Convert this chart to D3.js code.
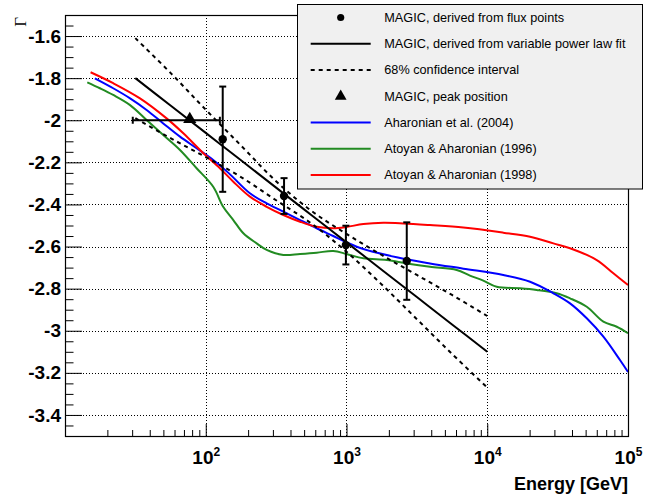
<!DOCTYPE html>
<html>
<head>
<meta charset="utf-8">
<script src="https://cdn.jsdelivr.net/npm/d3@7"></script>
<style>
  html, body { margin: 0; padding: 0; background: #fff; }
  svg { display: block; font-family: "Liberation Sans", Arial, Helvetica, sans-serif; }
</style>
</head>
<body>
<svg id="chart" width="665" height="495"></svg>
<script>
// ---------------- data ----------------
// MAGIC spectral index derived from the flux points (energy in GeV)
const fluxEnergy = [132, 360, 990, 2680];
const fluxIndex  = [-2.09, -2.36, -2.593, -2.669];
const fluxErr    = [0.25, 0.085, 0.092, 0.184];

// MAGIC peak position with its energy range
const peakEnergy = 77;
const peakIndex  = -2.0;
const peakLow    = 30.3;
const peakHigh   = 126;

// variable power law fit and its 68% confidence interval
const fitEnergy = [31.6, 56.2, 100, 178, 316, 562, 1000, 1778, 3162, 5623, 10000];
const fitIndex  = [-1.80, -1.93, -2.06, -2.19, -2.32, -2.45, -2.58, -2.71, -2.84, -2.97, -3.10];
const ciUpper   = [-1.61, -1.775, -1.95, -2.12, -2.29, -2.43, -2.54, -2.64, -2.735, -2.83, -2.93];
const ciLower   = [-1.99, -2.085, -2.175, -2.27, -2.38, -2.49, -2.625, -2.78, -2.945, -3.11, -3.27];

// Aharonian et al. (2004)
const ahaEnergy = [16.3, 22, 29, 38, 49.9, 65.6, 86.1, 113, 145, 206, 271, 356, 468, 614, 805, 1000,
                   1318, 2275, 3917, 6761, 13000, 20140, 29510, 38730, 50930, 66830, 87700, 100000];
const ahaIndex  = [-1.801, -1.848, -1.896, -1.951, -2.015, -2.078, -2.133, -2.189, -2.25, -2.347, -2.395,
                   -2.434, -2.474, -2.513, -2.55, -2.58, -2.612, -2.651, -2.68, -2.705, -2.735, -2.767,
                   -2.822, -2.87, -2.941, -3.028, -3.139, -3.196];

// Atoyan & Aharonian (1996)
const aa96Energy = [14.4, 17.7, 22, 29, 38, 49.9, 65.6, 86.1, 113, 133, 157, 185, 230, 271, 356, 468, 614,
                    805, 1000, 1318, 1932, 2679, 3917, 6067, 7534, 9376, 11670, 17100, 22440, 31120,
                    38730, 50930, 66830, 83180, 100000];
const aa96Index  = [-1.82, -1.848, -1.88, -1.928, -1.999, -2.07, -2.141, -2.228, -2.316, -2.411, -2.474,
                    -2.537, -2.585, -2.616, -2.64, -2.635, -2.629, -2.621, -2.635, -2.656, -2.664, -2.68,
                    -2.696, -2.711, -2.738, -2.762, -2.791, -2.798, -2.806, -2.822, -2.846, -2.886,
                    -2.957, -2.981, -3.012];

// Atoyan & Aharonian (1998)
const aa98Energy = [15.2, 22, 34.1, 52.7, 69.3, 96.2, 126, 157, 206, 271, 356, 468, 614, 805, 1000, 1318,
                    1828, 2535, 3917, 6761, 13000, 20140, 29510, 38730, 59980, 78700, 100000];
const aa98Index  = [-1.772, -1.824, -1.896, -1.991, -2.062, -2.157, -2.228, -2.292, -2.363, -2.411, -2.45,
                    -2.482, -2.506, -2.513, -2.507, -2.493, -2.487, -2.49, -2.498, -2.51, -2.534, -2.553,
                    -2.585, -2.608, -2.664, -2.727, -2.783];

// axis ticks
const yTickValues = [-1.6, -1.8, -2.0, -2.2, -2.4, -2.6, -2.8, -3.0, -3.2, -3.4];
const yTickLabels = ["-1.6", "-1.8", "-2", "-2.2", "-2.4", "-2.6", "-2.8", "-3", "-3.2", "-3.4"];
const xTickValues = [100, 1000, 10000, 100000];
const xTickExponents = ["2", "3", "4", "5"];

// legend
const legendLabels = [
  "MAGIC, derived from flux points",
  "MAGIC, derived from variable power law fit",
  "68% confidence interval",
  "MAGIC, peak position",
  "Aharonian et al. (2004)",
  "Atoyan & Aharonian (1996)",
  "Atoyan & Aharonian (1998)"
];

// ---------------- layout ----------------
const frame = { left: 65, right: 628, top: 15, bottom: 436 };
const colors = { blue: "#0000ff", green: "#228b22", red: "#ff0000", black: "#000000" };

const svg = d3.select("#chart");
const x = d3.scaleLog().domain([10, 1e5]).range([frame.left, frame.right]);
const y = d3.scaleLinear().domain([-3.5, -1.5]).range([frame.bottom, frame.top]);

// ---------------- grid ----------------
const grid = svg.append("g").attr("stroke", "#000").attr("stroke-width", 1)
  .attr("stroke-dasharray", "1,2").attr("shape-rendering", "crispEdges");
grid.selectAll("line.h").data(yTickValues).join("line")
  .attr("x1", frame.left).attr("x2", frame.right)
  .attr("y1", d => Math.round(y(d)) + 0.5).attr("y2", d => Math.round(y(d)) + 0.5);
grid.selectAll("line.v").data(xTickValues.slice(0, 3)).join("line")
  .attr("y1", frame.top).attr("y2", frame.bottom)
  .attr("x1", d => Math.round(x(d)) + 0.5).attr("x2", d => Math.round(x(d)) + 0.5);

// ---------------- axes ----------------
// y axis: major ticks with labels, minor ticks every 0.05
const yMinor = d3.range(-3.45, -1.5, 0.05).filter(v => !yTickValues.some(t => Math.abs(t - v) < 1e-6));
svg.append("g").attr("transform", `translate(${frame.left},0)`)
  .call(d3.axisLeft(y).tickValues(yMinor).tickSize(-8.5).tickFormat(""))
  .call(g => g.select(".domain").remove());
const yAxis = svg.append("g").attr("transform", `translate(${frame.left},0)`)
  .call(d3.axisLeft(y).tickValues(yTickValues).tickSize(-17).tickPadding(4)
    .tickFormat((d, i) => yTickLabels[i]));
yAxis.select(".domain").remove();
yAxis.selectAll("text").attr("font-size", 19).attr("font-weight", "bold")
  .attr("font-family", "Liberation Sans, Arial, sans-serif");

// x axis: decades with superscript labels, minor ticks 2..9
const xMinor = [];
[10, 100, 1000, 10000].forEach(dec => { for (let m = 2; m <= 9; m++) xMinor.push(dec * m); });
svg.append("g").attr("transform", `translate(0,${frame.bottom})`)
  .call(d3.axisBottom(x).tickValues(xMinor).tickSize(-6).tickFormat(""))
  .call(g => g.select(".domain").remove());
const xAxis = svg.append("g").attr("transform", `translate(0,${frame.bottom})`)
  .call(d3.axisBottom(x).tickValues(xTickValues).tickSize(-12).tickFormat(""));
xAxis.select(".domain").remove();
xAxis.selectAll(".tick").append("text")
  .attr("fill", "#000").attr("y", 28).attr("text-anchor", "middle")
  .attr("font-size", 19).attr("font-weight", "bold")
  .each(function (d, i) {
    const t = d3.select(this);
    t.append("tspan").text("10");
    t.append("tspan").attr("font-size", 12).attr("dy", -8).text(xTickExponents[i]);
  });

// axis titles
svg.append("text").attr("x", frame.right).attr("y", 490).attr("text-anchor", "end")
  .attr("font-size", 18).attr("font-weight", "bold").text("Energy [GeV]");
svg.append("text").attr("transform", `translate(26,${frame.top + 2}) rotate(-90)`)
  .attr("text-anchor", "end").attr("font-family", "Liberation Serif, Times New Roman, serif")
  .attr("font-size", 17).text("Γ");

// ---------------- model curves ----------------
const line = d3.line().x(d => x(d[0])).y(d => y(d[1])).curve(d3.curveCatmullRom.alpha(0.5));
const zip = (a, b) => a.map((v, i) => [v, b[i]]);

const curves = [
  { e: aa96Energy, g: aa96Index, c: colors.green },
  { e: ahaEnergy,  g: ahaIndex,  c: colors.blue },
  { e: aa98Energy, g: aa98Index, c: colors.red }
];
svg.append("g").selectAll("path").data(curves).join("path")
  .attr("d", d => line(zip(d.e, d.g)))
  .attr("fill", "none").attr("stroke", d => d.c).attr("stroke-width", 2);

// ---------------- fit and confidence interval ----------------
svg.append("path").attr("d", line(zip(fitEnergy, fitIndex)))
  .attr("fill", "none").attr("stroke", "#000").attr("stroke-width", 2);
svg.append("g").selectAll("path").data([ciUpper, ciLower]).join("path")
  .attr("d", d => line(zip(fitEnergy, d)))
  .attr("fill", "none").attr("stroke", "#000").attr("stroke-width", 2)
  .attr("stroke-dasharray", "4,4");

// ---------------- peak position ----------------
const peak = svg.append("g").attr("stroke", "#000").attr("stroke-width", 2);
peak.append("line").attr("x1", x(peakLow)).attr("x2", x(peakHigh))
  .attr("y1", y(peakIndex)).attr("y2", y(peakIndex));
[peakLow, peakHigh].forEach(e => {
  peak.append("line").attr("x1", x(e)).attr("x2", x(e))
    .attr("y1", y(peakIndex) - 3.5).attr("y2", y(peakIndex) + 3.5);
});
svg.append("path")
  .attr("d", d3.symbol().type(d3.symbolTriangle).size(75)())
  .attr("transform", `translate(${x(peakEnergy)},${y(peakIndex) - 1})`)
  .attr("fill", "#000");

// ---------------- flux points with error bars ----------------
const pts = svg.append("g");
const fluxData = fluxEnergy.map((e, i) => ({ e, g: fluxIndex[i], err: fluxErr[i] }));
const eb = pts.selectAll("g").data(fluxData).join("g").attr("stroke", "#000").attr("stroke-width", 2);
eb.append("line").attr("x1", d => x(d.e)).attr("x2", d => x(d.e))
  .attr("y1", d => y(d.g + d.err)).attr("y2", d => y(d.g - d.err));
eb.append("line").attr("x1", d => x(d.e) - 3.5).attr("x2", d => x(d.e) + 3.5)
  .attr("y1", d => y(d.g + d.err)).attr("y2", d => y(d.g + d.err));
eb.append("line").attr("x1", d => x(d.e) - 3.5).attr("x2", d => x(d.e) + 3.5)
  .attr("y1", d => y(d.g - d.err)).attr("y2", d => y(d.g - d.err));
pts.selectAll("circle").data(fluxData).join("circle")
  .attr("cx", d => x(d.e)).attr("cy", d => y(d.g)).attr("r", 4.2).attr("fill", "#000");

// ---------------- frame ----------------
svg.append("rect")
  .attr("x", frame.left + 0.5).attr("y", frame.top + 0.5)
  .attr("width", frame.right - frame.left).attr("height", frame.bottom - frame.top)
  .attr("fill", "none").attr("stroke", "#000").attr("stroke-width", 1.2);

// ---------------- legend ----------------
const lg = svg.append("g");
lg.append("rect").attr("x", 297.5).attr("y", 4.5).attr("width", 345).attr("height", 184.5)
  .attr("fill", "#f0f0f0").attr("stroke", "#000").attr("stroke-width", 1);
const rowY = i => 17.5 + i * 26.25;
const symX = 340.7, lineX0 = 310.7, lineX1 = 370.7, textX = 384.3;
const rows = lg.selectAll("g.row").data(legendLabels).join("g").attr("class", "row");
rows.append("text").attr("x", textX).attr("y", (d, i) => rowY(i)).attr("dy", "0.35em")
  .attr("font-size", 12.7).attr("fill", "#000").text(d => d);

lg.append("circle").attr("cx", symX).attr("cy", rowY(0)).attr("r", 3.6).attr("fill", "#000");
lg.append("line").attr("x1", lineX0).attr("x2", lineX1).attr("y1", rowY(1)).attr("y2", rowY(1))
  .attr("stroke", "#000").attr("stroke-width", 2);
lg.append("line").attr("x1", lineX0).attr("x2", lineX1).attr("y1", rowY(2)).attr("y2", rowY(2))
  .attr("stroke", "#000").attr("stroke-width", 2).attr("stroke-dasharray", "4,4");
lg.append("path").attr("d", d3.symbol().type(d3.symbolTriangle).size(60)())
  .attr("transform", `translate(${symX},${rowY(3)})`).attr("fill", "#000");
[colors.blue, colors.green, colors.red].forEach((c, k) => {
  lg.append("line").attr("x1", lineX0).attr("x2", lineX1).attr("y1", rowY(4 + k)).attr("y2", rowY(4 + k))
    .attr("stroke", c).attr("stroke-width", 2);
});
</script>
</body>
</html>
